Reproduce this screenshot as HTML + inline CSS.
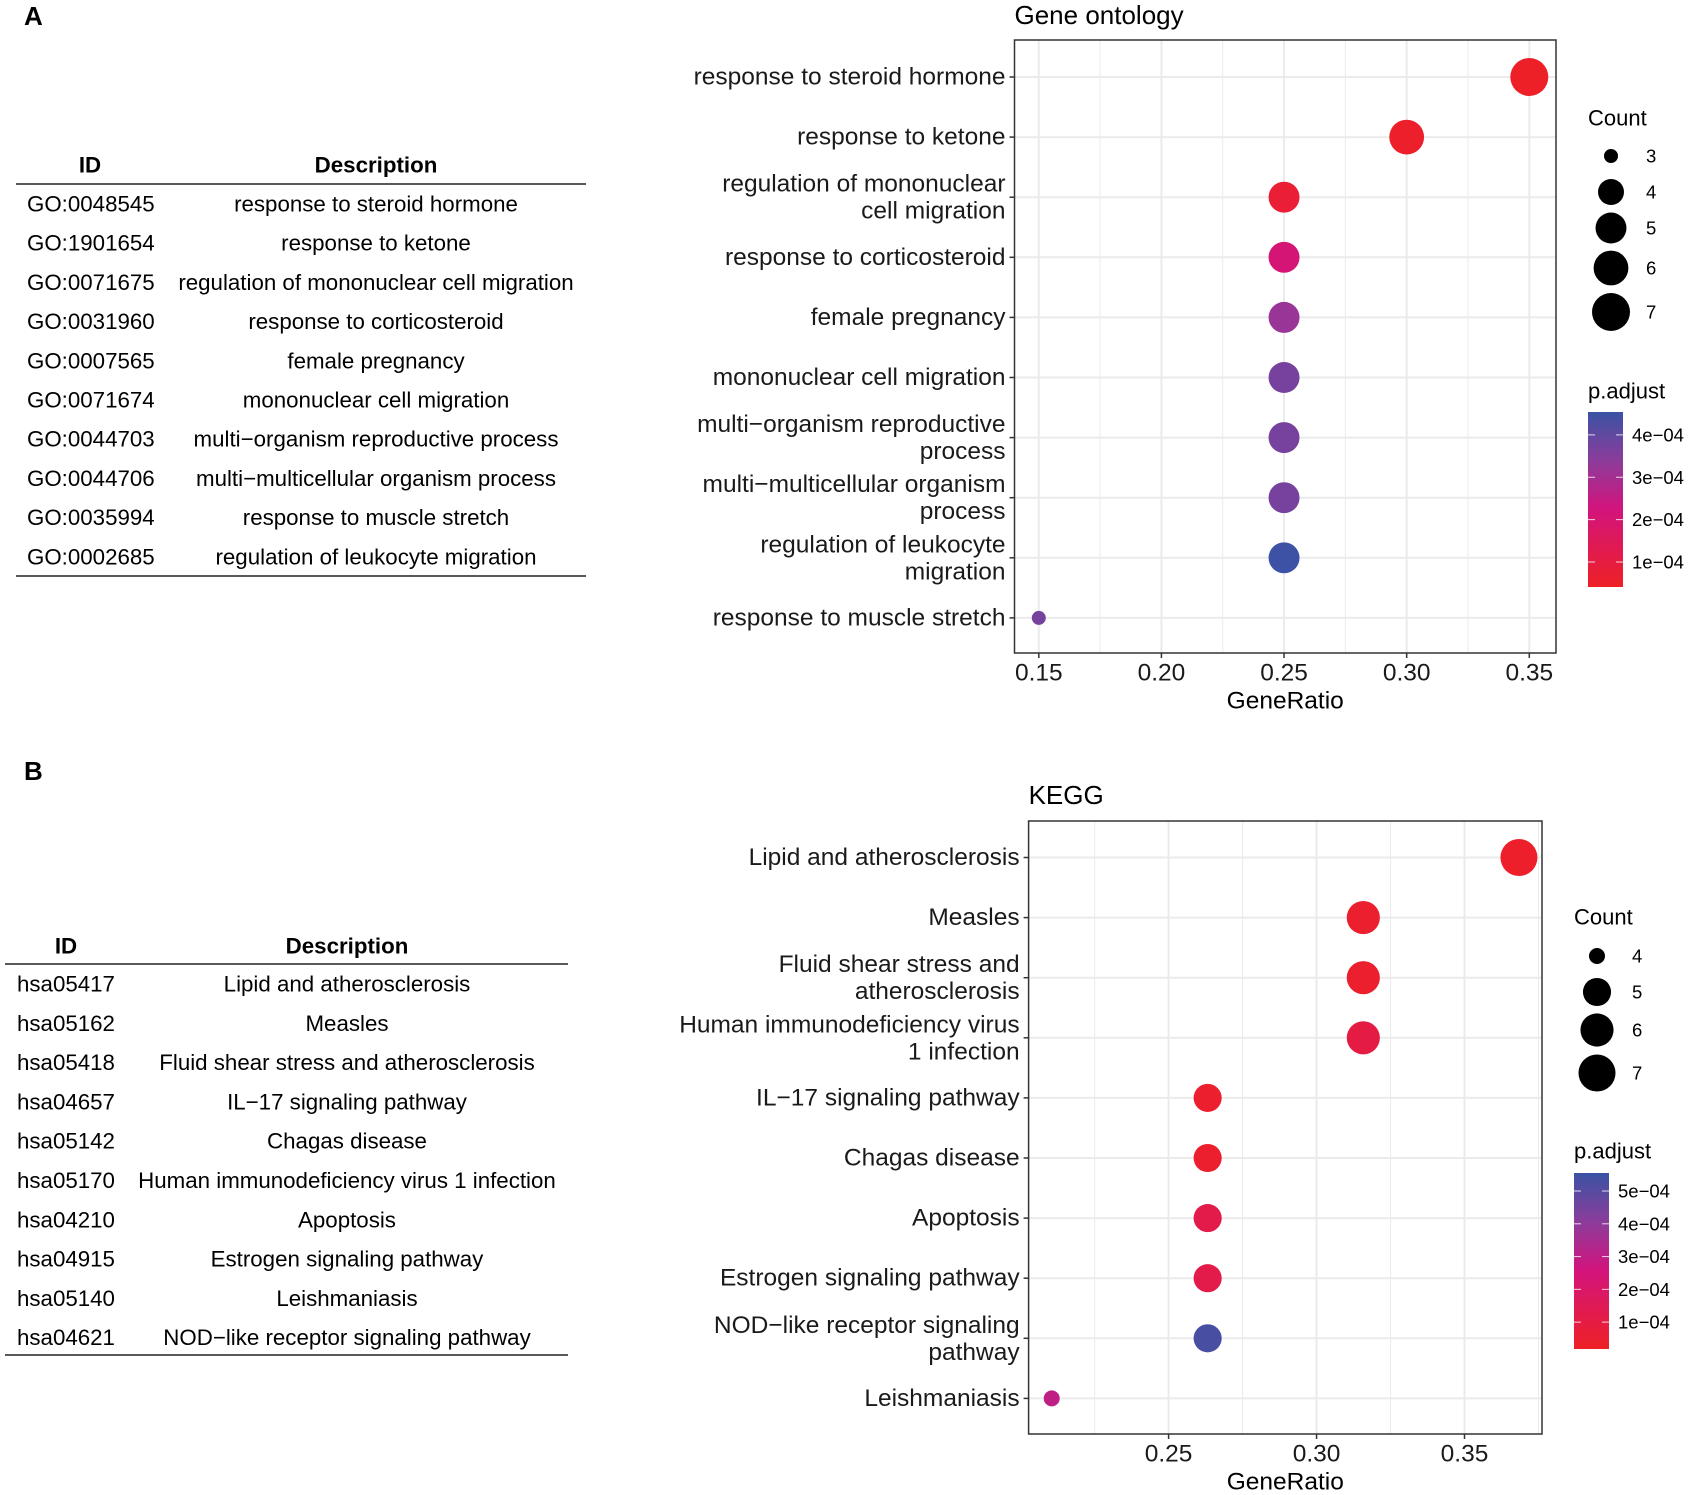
<!DOCTYPE html>
<html><head><meta charset="utf-8"><style>
html,body{margin:0;padding:0;background:#fff}
svg{display:block;font-family:"Liberation Sans",Arial,sans-serif}
</style></head><body>
<svg id="fig" width="1689" height="1495" viewBox="0 0 1689 1495" xmlns="http://www.w3.org/2000/svg">
<defs>
<linearGradient id="gradGO" x1="0" y1="1" x2="0" y2="0">
<stop offset="0" stop-color="rgb(238,32,38)"/><stop offset="0.45" stop-color="rgb(210,20,125)"/><stop offset="0.72" stop-color="rgb(140,60,155)"/><stop offset="1" stop-color="rgb(58,83,164)"/>
</linearGradient>
<linearGradient id="gradKEGG" x1="0" y1="1" x2="0" y2="0">
<stop offset="0" stop-color="rgb(238,32,38)"/><stop offset="0.45" stop-color="rgb(210,20,125)"/><stop offset="0.72" stop-color="rgb(140,60,155)"/><stop offset="1" stop-color="rgb(58,83,164)"/>
</linearGradient>
</defs>
<g id="root"></g>
</svg>
<script>
// ---------- data ----------
const goIds = ["GO:0048545","GO:1901654","GO:0071675","GO:0031960","GO:0007565","GO:0071674","GO:0044703","GO:0044706","GO:0035994","GO:0002685"];
const goDescs = ["response to steroid hormone","response to ketone","regulation of mononuclear cell migration","response to corticosteroid","female pregnancy","mononuclear cell migration","multi\u2212organism reproductive process","multi\u2212multicellular organism process","response to muscle stretch","regulation of leukocyte migration"];
const goCats = [["response to steroid hormone"],["response to ketone"],["regulation of mononuclear","cell migration"],["response to corticosteroid"],["female pregnancy"],["mononuclear cell migration"],["multi\u2212organism reproductive","process"],["multi\u2212multicellular organism","process"],["regulation of leukocyte","migration"],["response to muscle stretch"]];
const goRatio = [0.35,0.30,0.25,0.25,0.25,0.25,0.25,0.25,0.25,0.15];
const goCount = [7,6,5,5,5,5,5,5,5,3];
const goP = [0.45e-4,0.5e-4,0.7e-4,2.1e-4,3.2e-4,3.7e-4,3.7e-4,3.7e-4,4.5e-4,3.7e-4];
const goTicks = [0.15,0.20,0.25,0.30,0.35];
const goTickLabels = ["0.15","0.20","0.25","0.30","0.35"];
const goCountLegend = [3,4,5,6,7];
const goPTicks = [1e-4,2e-4,3e-4,4e-4];
const goPTickLabels = ["1e\u221204","2e\u221204","3e\u221204","4e\u221204"];

const kgIds = ["hsa05417","hsa05162","hsa05418","hsa04657","hsa05142","hsa05170","hsa04210","hsa04915","hsa05140","hsa04621"];
const kgDescs = ["Lipid and atherosclerosis","Measles","Fluid shear stress and atherosclerosis","IL\u221217 signaling pathway","Chagas disease","Human immunodeficiency virus 1 infection","Apoptosis","Estrogen signaling pathway","Leishmaniasis","NOD\u2212like receptor signaling pathway"];
const kgCats = [["Lipid and atherosclerosis"],["Measles"],["Fluid shear stress and","atherosclerosis"],["Human immunodeficiency virus","1 infection"],["IL\u221217 signaling pathway"],["Chagas disease"],["Apoptosis"],["Estrogen signaling pathway"],["NOD\u2212like receptor signaling","pathway"],["Leishmaniasis"]];
const kgRatio = [0.3684,0.3158,0.3158,0.3158,0.2632,0.2632,0.2632,0.2632,0.2632,0.2105];
const kgCount = [7,6,6,6,5,5,5,5,5,4];
const kgP = [0.3e-4,0.4e-4,0.4e-4,1.0e-4,0.4e-4,0.4e-4,1.2e-4,1.2e-4,5.3e-4,3.0e-4];
const kgTicks = [0.25,0.30,0.35];
const kgTickLabels = ["0.25","0.30","0.35"];
const kgCountLegend = [4,5,6,7];
const kgPTicks = [1e-4,2e-4,3e-4,4e-4,5e-4];
const kgPTickLabels = ["1e\u221204","2e\u221204","3e\u221204","4e\u221204","5e\u221204"];

// ---------- helpers ----------
const NS="http://www.w3.org/2000/svg";
const root=document.getElementById('root');
function mk(tag,attrs,parent,text){const e=document.createElementNS(NS,tag);for(const k in attrs)e.setAttribute(k,attrs[k]);if(text!==undefined)e.textContent=text;(parent||root).appendChild(e);return e;}
const stops=[[0,[238,32,38]],[0.45,[210,20,125]],[0.72,[140,60,155]],[1,[58,83,164]]];
function colorAt(t){t=Math.max(0,Math.min(1,t));for(let i=1;i<stops.length;i++){if(t<=stops[i][0]){const a=stops[i-1],b=stops[i];const f=(t-a[0])/(b[0]-a[0]);const c=a[1].map((v,j)=>Math.round(v+(b[1][j]-v)*f));return `rgb(${c[0]},${c[1]},${c[2]})`;}}return 'rgb(58,83,164)';}

const TF=22.3;
function table(cfg){
  const g=mk('g',{});
  
  
  let t=mk('text',{x:cfg.idX,y:cfg.headY,'text-anchor':'middle','font-size':TF,'font-weight':'bold','dominant-baseline':'central'},g,'ID');
  
  t=mk('text',{x:cfg.descX,y:cfg.headY,'text-anchor':'middle','font-size':TF,'font-weight':'bold','dominant-baseline':'central'},g,'Description');
  
  let l=mk('line',{x1:cfg.x1,x2:cfg.x2,y1:cfg.topLine,y2:cfg.topLine,stroke:'#222','stroke-width':1.5},g);
  
  cfg.ids.forEach((id,i)=>{
    const y=cfg.row0+i*cfg.step;
    const a=mk('text',{x:cfg.idLeft,y:y,'font-size':TF,'dominant-baseline':'central'},g,id);
    
    const b=mk('text',{x:cfg.descX,y:y,'text-anchor':'middle','font-size':TF,'dominant-baseline':'central'},g,cfg.descs[i]);
    
  });
  l=mk('line',{x1:cfg.x1,x2:cfg.x2,y1:cfg.botLine,y2:cfg.botLine,stroke:'#222','stroke-width':1.5},g);
  
}

function dotplot(c){
  const g=mk('g',{});
  
  
  const xs=v=>c.x0p+(v-c.x0)/(c.x1v-c.x0)*(c.x1p-c.x0p);
  const ys=i=>c.row0+i*c.step;
  const pT=v=>(v-c.pmin)/(c.pmax-c.pmin);
  let t=mk('text',{x:c.left,y:c.titleY,'font-size':26,'dominant-baseline':'central'},g,c.title);
  
  const gg=mk('g',{},g);
  
  const stepV=c.ticks[1]-c.ticks[0];
  for(let k=-2;k<c.ticks.length+1;k++){
    const v=c.ticks[0]+(k+0.5)*stepV;const x=xs(v);
    if(x>c.left&&x<c.right){const ln=mk('line',{x1:x,x2:x,y1:c.top,y2:c.bottom,stroke:'#EBEBEB','stroke-width':1},gg);}
  }
  c.ticks.forEach(v=>{const x=xs(v);const ln=mk('line',{x1:x,x2:x,y1:c.top,y2:c.bottom,stroke:'#EBEBEB','stroke-width':2},gg);});
  c.cats.forEach((_,i)=>{const y=ys(i);const ln=mk('line',{x1:c.left,x2:c.right,y1:y,y2:y,stroke:'#EBEBEB','stroke-width':2},gg);});
  c.ratio.forEach((r,i)=>{
    const p=mk('circle',{cx:xs(r),cy:ys(i),r:c.rad(c.count[i]),fill:colorAt(pT(c.p[i]))},g);
    
    
  });
  let b=mk('rect',{x:c.left,y:c.top,width:c.right-c.left,height:c.bottom-c.top,fill:'none',stroke:'#333','stroke-width':1.5},g);
  
  c.cats.forEach((lines,i)=>{
    const y=ys(i);
    const tk=mk('line',{x1:c.left-5,x2:c.left,y1:y,y2:y,stroke:'#333','stroke-width':1.5},g);
    
    lines.forEach((s,j)=>{
      const off=lines.length===1?0:(j===0?-13:14);
      const tx=mk('text',{x:c.left-9,y:y+off,'text-anchor':'end','font-size':24.5,'dominant-baseline':'central',fill:'#1a1a1a'},g,s);
      
    });
  });
  c.ticks.forEach((v,i)=>{
    const x=xs(v);
    const tk=mk('line',{x1:x,x2:x,y1:c.bottom,y2:c.bottom+5,stroke:'#333','stroke-width':1.5},g);
    
    const tx=mk('text',{x:x,y:c.tickY,'text-anchor':'middle','font-size':24.5,'dominant-baseline':'central',fill:'#1a1a1a'},g,c.tickLabels[i]);
    
  });
  t=mk('text',{x:(c.left+c.right)/2,y:c.axisTitleY,'text-anchor':'middle','font-size':24.5,'dominant-baseline':'central'},g,'GeneRatio');
  
  t=mk('text',{x:c.legX,y:c.countTitleY,'font-size':22,'dominant-baseline':'central'},g,'Count');
  
  c.countLegend.forEach((n,i)=>{
    const cc=mk('circle',{cx:c.legCx,cy:c.countYs[i],r:c.rad(n),fill:'#000'},g);
    
    const tx=mk('text',{x:c.legLabX,y:c.countYs[i],'font-size':18.5,'dominant-baseline':'central'},g,String(n));
    
  });
  t=mk('text',{x:c.legX,y:c.pTitleY,'font-size':22,'dominant-baseline':'central'},g,'p.adjust');
  
  const bar=mk('rect',{x:c.barX,y:c.barTop,width:c.barW,height:c.barBot-c.barTop,fill:'url(#'+c.grad+')'},g);
  
  const by=v=>c.barBot-(v-c.pmin)/(c.pmax-c.pmin)*(c.barBot-c.barTop);
  c.pTicks.forEach((v,i)=>{
    const y=by(v);
    mk('line',{x1:c.barX,x2:c.barX+7,y1:y,y2:y,stroke:'#fff','stroke-width':1,'stroke-opacity':0.8},g);
    mk('line',{x1:c.barX+c.barW-7,x2:c.barX+c.barW,y1:y,y2:y,stroke:'#fff','stroke-width':1,'stroke-opacity':0.8},g);
    const tx=mk('text',{x:c.barX+c.barW+9,y:y,'font-size':18.5,'dominant-baseline':'central'},g,c.pTickLabels[i]);
    
  });
}

let L=mk('text',{x:24,y:16,'font-size':26,'font-weight':'bold','dominant-baseline':'central'},root,'A');

L=mk('text',{x:24,y:771,'font-size':26,'font-weight':'bold','dominant-baseline':'central'},root,'B');


table({name:'go-table',ids:goIds,descs:goDescs,idX:90,descX:376,idLeft:27,headY:165,topLine:184,row0:204,step:39.2,botLine:576,x1:16,x2:586});
table({name:'kegg-table',ids:kgIds,descs:kgDescs,idX:66,descX:347,idLeft:17,headY:946,topLine:964,row0:984,step:39.3,botLine:1355,x1:5,x2:568});

dotplot({name:'go-dotplot',title:'Gene ontology',titleY:15,left:1014.5,right:1556,top:40,bottom:653,
  x0:0.15,x0p:1038.8,x1v:0.35,x1p:1529.3,row0:77,step:60.1,cats:goCats,ratio:goRatio,count:goCount,p:goP,
  pmin:0.41e-4,pmax:4.54e-4,ticks:goTicks,tickLabels:goTickLabels,tickY:673,axisTitleY:701,
  rad:n=>7+12*Math.sqrt((n-3)/4),
  legX:1588,countTitleY:118,legCx:1611,legLabX:1646,countLegend:goCountLegend,countYs:[156,192,228,268,312],
  pTitleY:391,barX:1588,barW:35,barTop:412,barBot:587,grad:'gradGO',pTicks:goPTicks,pTickLabels:goPTickLabels});

dotplot({name:'kegg-dotplot',title:'KEGG',titleY:795,left:1028.6,right:1542,top:821,bottom:1434,
  x0:0.25,x0p:1168.6,x1v:0.35,x1p:1464.5,row0:857.5,step:60.1,cats:kgCats,ratio:kgRatio,count:kgCount,p:kgP,
  pmin:0.18e-4,pmax:5.55e-4,ticks:kgTicks,tickLabels:kgTickLabels,tickY:1454,axisTitleY:1482,
  rad:n=>8+10.5*Math.sqrt((n-4)/3),
  legX:1574,countTitleY:917,legCx:1597,legLabX:1632,countLegend:kgCountLegend,countYs:[956,992,1030,1073],
  pTitleY:1151,barX:1574,barW:35,barTop:1173,barBot:1349,grad:'gradKEGG',pTicks:kgPTicks,pTickLabels:kgPTickLabels});
</script>
</body></html>
